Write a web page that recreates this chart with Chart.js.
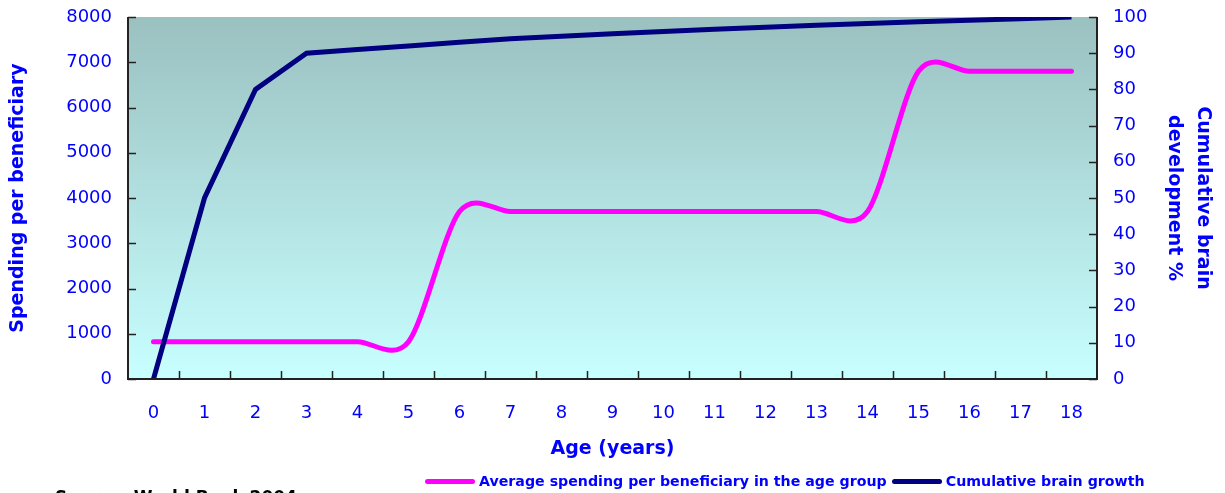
<!DOCTYPE html>
<html>
<head>
<meta charset="utf-8">
<script src="https://cdn.jsdelivr.net/npm/chart.js@4"></script>
<style>
  html, body { margin: 0; padding: 0; background: #fff; overflow: hidden; }
  #wrap { position: relative; width: 1225px; height: 493px; }
  #legend { position: absolute; left: 425px; top: 472px; font: bold 14.2px "DejaVu Sans", sans-serif; color: #0000ff; white-space: nowrap; }
  #legend span.ln { display: inline-block; width: 50px; height: 5px; border-radius: 3px; vertical-align: middle; margin-right: 4px; }
  #legend span.txt { vertical-align: middle; margin-right: 5px; }
  #source { position: absolute; left: 55px; top: 487px; font: bold 17px "DejaVu Sans", sans-serif; color: #000; white-space: nowrap; }
</style>
</head>
<body>
<div id="wrap">
  <canvas id="chart" width="1225" height="493"></canvas>
  <div id="legend">
    <span class="ln" style="background:#ff00ff"></span><span class="txt">Average spending per beneficiary in the age group</span><span class="ln" style="background:#000080"></span><span class="txt">Cumulative brain growth</span>
  </div>
  <div id="source">Source: World Bank 2004</div>
</div>
<script>
// === DATA ===
const ages = ['0','1','2','3','4','5','6','7','8','9','10','11','12','13','14','15','16','17','18'];
const spending = [825, 825, 825, 825, 825, 825, 3700, 3700, 3700, 3700, 3700, 3700, 3700, 3700, 3700, 6800, 6800, 6800, 6800];
const brainGrowth = [0, 50, 80, 90, 91, 92, 93, 94, 94.7, 95.4, 96, 96.6, 97.2, 97.7, 98.2, 98.7, 99.1, 99.5, 100];

const FONT = '"DejaVu Sans", sans-serif';
const BLUE = '#0000ff';
const SMOOTH = 0.15; // spreadsheet-style smoothing (uniform catmull-rom)

// background gradient, spreadsheet smoothing, inner tick marks
const plotDeco = {
  id: 'plotDeco',
  beforeDatasetsDraw(chart) {
    const { ctx, chartArea: a } = chart;
    const g = ctx.createLinearGradient(0, a.top, 0, a.bottom);
    g.addColorStop(0, '#9bc0c0');
    g.addColorStop(1, '#c8ffff');
    ctx.save();
    ctx.fillStyle = g;
    ctx.fillRect(a.left, a.top, a.right - a.left, a.bottom - a.top);
    ctx.restore();

    // redo the bezier handles of the smoothed line the way excel does it
    const meta = chart.getDatasetMeta(0);
    meta.dataset.updateControlPoints(a, 'x');
    const pts = meta.data;
    pts.forEach((p, i) => {
      const prev = pts[i - 1] || p, next = pts[i + 1] || p;
      const dx = (next.x - prev.x) * SMOOTH, dy = (next.y - prev.y) * SMOOTH;
      p.cp1x = p.x - dx; p.cp1y = p.y - dy;
      p.cp2x = p.x + dx; p.cp2y = p.y + dy;
    });
  },
  afterDatasetsDraw(chart) {
    const { ctx, chartArea: a, scales } = chart;
    ctx.save();
    ctx.lineWidth = 1.5;
    ctx.strokeStyle = '#222';
    ctx.beginPath();
    // x ticks between categories
    const n = ages.length;
    const step = (a.right - a.left) / n;
    for (let i = 1; i < n; i++) {
      const x = Math.round(a.left + i * step) + 0.5;
      ctx.moveTo(x, a.bottom); ctx.lineTo(x, a.bottom - 8);
    }
    scales.y.ticks.forEach(t => {
      const y = Math.round(scales.y.getPixelForValue(t.value)) + 0.5;
      ctx.moveTo(a.left, y); ctx.lineTo(a.left + 8, y);
    });
    scales.y1.ticks.forEach(t => {
      const y = Math.round(scales.y1.getPixelForValue(t.value)) + 0.5;
      ctx.moveTo(a.right, y); ctx.lineTo(a.right - 8, y);
    });
    ctx.stroke();
    // axis lines
    ctx.lineWidth = 2;
    ctx.beginPath();
    ctx.moveTo(a.left, a.top); ctx.lineTo(a.left, a.bottom); ctx.lineTo(a.right, a.bottom); ctx.lineTo(a.right, a.top);
    ctx.stroke();
    ctx.restore();
  }
};

new Chart(document.getElementById('chart'), {
  type: 'line',
  data: {
    labels: ages,
    datasets: [
      {
        label: 'Average spending per beneficiary in the age group',
        data: spending,
        yAxisID: 'y',
        borderColor: '#ff00ff',
        borderWidth: 5,
        borderCapStyle: 'round',
        tension: 0.4,
        pointRadius: 0,
        order: 1
      },
      {
        label: 'Cumulative brain growth',
        data: brainGrowth,
        yAxisID: 'y1',
        borderColor: '#000080',
        borderWidth: 5,
        tension: 0,
        pointRadius: 0,
        order: 0
      }
    ]
  },
  options: {
    responsive: false,
    animation: false,
    layout: { padding: { top: 17, left: 0, right: 0, bottom: 0 } },
    plugins: { legend: { display: false }, tooltip: { enabled: false } },
    scales: {
      x: {
        offset: true,
        grid: { display: false, drawTicks: false },
        border: { display: false },
        ticks: { color: BLUE, font: { family: FONT, size: 18 }, padding: 24, maxRotation: 0 },
        title: { display: true, text: 'Age (years)', color: BLUE, font: { family: FONT, size: 19, weight: 'bold' }, padding: { top: 0, bottom: 33 } },
        afterFit(s) { s.height = 114; s.paddingLeft = 0; s.paddingRight = 0; }
      },
      y: {
        position: 'left',
        min: 0, max: 8000,
        ticks: { stepSize: 1000, color: BLUE, font: { family: FONT, size: 18 }, padding: 16, callback: v => String(v) },
        grid: { display: false, drawTicks: false },
        border: { display: false },
        title: { display: true, text: 'Spending per beneficiary', color: BLUE, font: { family: FONT, size: 19, weight: 'bold' }, padding: { top: 7, bottom: 0 } },
        afterFit(s) { s.width = 128; s.paddingTop = 0; s.paddingBottom = 0; }
      },
      y1: {
        position: 'right',
        min: 0, max: 100,
        ticks: { stepSize: 10, color: BLUE, font: { family: FONT, size: 18 }, padding: 16, callback: v => String(v) },
        grid: { display: false, drawTicks: false },
        border: { display: false },
        title: { display: true, text: ['Cumulative brain', 'development %'], color: BLUE, font: { family: FONT, size: 19, weight: 'bold', lineHeight: 1.5 }, padding: { top: 8, bottom: 0 } },
        afterFit(s) { s.width = 128; s.paddingTop = 0; s.paddingBottom = 0; }
      }
    }
  },
  plugins: [plotDeco]
});
</script>
</body>
</html>
